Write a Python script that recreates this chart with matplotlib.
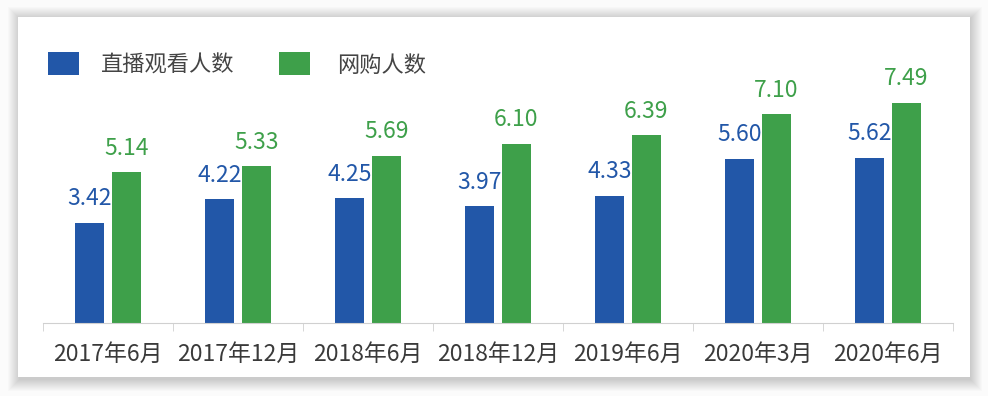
import numpy as np
import matplotlib
matplotlib.use('Agg')
from matplotlib import pyplot as plt
from matplotlib.patches import Rectangle

plt.rcParams['font.family'] = ['Noto Sans CJK SC', 'DejaVu Sans']

periods = ['2017年6月', '2017年12月', '2018年6月', '2018年12月', '2019年6月', '2020年3月', '2020年6月']
live_viewers = [3.42, 4.22, 4.25, 3.97, 4.33, 5.60, 5.62]
online_shoppers = [5.14, 5.33, 5.69, 6.10, 6.39, 7.10, 7.49]
series_names = ['直播观看人数', '网购人数']

blue = '#2257a8'
green = '#3ea04a'

W, H = 988, 396
fig = plt.figure(figsize=(W / 100, H / 100), dpi=100)
fig.patch.set_facecolor('#fbfbfb')

# card with soft shadow
cx0, cy0, cx1, cy1 = 18, 17, 970, 377
for i in range(12, 0, -1):
    fig.patches.append(Rectangle(((cx0 - i + 2) / W, (H - cy1 - i - 2) / H),
                                 (cx1 - cx0 + 2 * i - 2) / W, (cy1 - cy0 + 2 * i) / H,
                                 transform=fig.transFigure, facecolor='#000000',
                                 alpha=0.014, edgecolor='none', zorder=0))
fig.patches.append(Rectangle((cx0 / W, (H - cy1) / H), (cx1 - cx0) / W, (cy1 - cy0) / H,
                             transform=fig.transFigure, facecolor='white',
                             edgecolor='none', zorder=1))

ax = fig.add_axes([43 / W, (H - 323) / H, 910 / W, (323 - 88) / H])
ax.set_facecolor('none')
ax.set_zorder(2)

x = np.arange(len(periods))
bw = 0.223
off = 0.142
b1 = ax.bar(x - off, live_viewers, bw, color=blue)
b2 = ax.bar(x + off, online_shoppers, bw, color=green)

for bars, vals, c in [(b1, live_viewers, blue), (b2, online_shoppers, green)]:
    for r, v in zip(bars, vals):
        ax.annotate(f'{v:.2f}', (r.get_x() + r.get_width() / 2, v),
                    xytext=(0, 9), textcoords='offset points',
                    ha='center', va='bottom', fontsize=16.5, color=c)

ax.set_xlim(-0.5, len(periods) - 0.5)
ax.set_ylim(0, 8)
ax.set_yticks([])
for s in ['top', 'right', 'left']:
    ax.spines[s].set_visible(False)
ax.spines['bottom'].set_color('#d0d0d0')
ax.set_xticks(x)
ax.set_xticklabels(periods, fontsize=16.5, color='#3a3a3a')
ax.tick_params(axis='x', which='major', length=0, pad=14)
ax.set_xticks(np.arange(-0.5, len(periods)), minor=True)
ax.tick_params(axis='x', which='minor', length=6, color='#d0d0d0')

# legend
for name, c, lx, tx in [(series_names[0], blue, 48, 101), (series_names[1], green, 279, 337)]:
    fig.patches.append(Rectangle((lx / W, (H - 75) / H), 31 / W, 23 / H,
                                 transform=fig.transFigure, facecolor=c,
                                 edgecolor='none', zorder=3))
    fig.text(tx / W, (H - 65) / H, name, fontsize=16, color='#444444',
             ha='left', va='center', zorder=3)

fig.savefig('out.png', dpi=100)
